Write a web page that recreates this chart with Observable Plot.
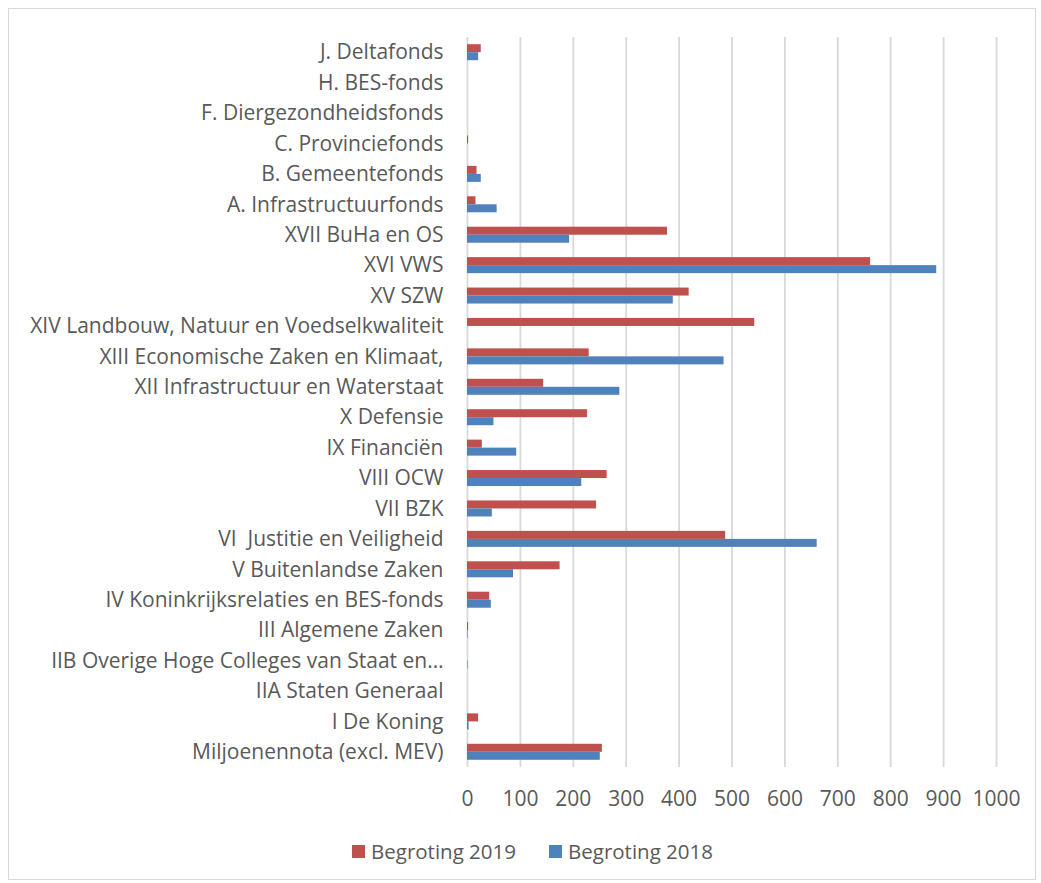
<!DOCTYPE html>
<html><head><meta charset="utf-8">
<script src="https://cdn.jsdelivr.net/npm/d3@7"></script>
<script src="https://cdn.jsdelivr.net/npm/@observablehq/plot@0.6"></script>
<style>
body{margin:0;background:#fff;font-family:"Open Sans",sans-serif;}
#frame{position:absolute;left:8px;top:8px;width:1028px;height:872px;border:1px solid #d9d9d9;box-sizing:border-box;}
#chart{position:absolute;left:0;top:0;}
#legend{position:absolute;top:838px;left:352px;display:flex;gap:33px;font-size:20.5px;color:#595959;line-height:26px;}
#legend .item{display:flex;align-items:center;gap:6px;}
#legend .sw{width:13px;height:13px;display:inline-block;}
</style>
</head><body>
<div id="frame"></div>
<div id="chart"></div>
<div id="legend"></div>
<script>
const categories = [
  "J. Deltafonds",
  "H. BES-fonds",
  "F. Diergezondheidsfonds",
  "C. Provinciefonds",
  "B. Gemeentefonds",
  "A. Infrastructuurfonds",
  "XVII BuHa en OS",
  "XVI VWS",
  "XV SZW",
  "XIV Landbouw, Natuur en Voedselkwaliteit",
  "XIII Economische Zaken en Klimaat,",
  "XII Infrastructuur en Waterstaat",
  "X Defensie",
  "IX Financiën",
  "VIII OCW",
  "VII BZK",
  "VI  Justitie en Veiligheid",
  "V Buitenlandse Zaken",
  "IV Koninkrijksrelaties en BES-fonds",
  "III Algemene Zaken",
  "IIB Overige Hoge Colleges van Staat en…",
  "IIA Staten Generaal",
  "I De Koning",
  "Miljoenennota (excl. MEV)"
];
const begroting2019 = [26, 0, 0, 2, 18, 16, 378, 762, 419, 543, 230, 144, 227, 28, 264, 244, 488, 175, 42, 2, 0, 0, 21, 255];
const begroting2018 = [21, 0, 0, 0, 26, 56, 193, 887, 389, 0, 485, 288, 50, 93, 216, 47, 661, 87, 45, 1, 1, 0, 3, 251];
const xTicks = [0, 100, 200, 300, 400, 500, 600, 700, 800, 900, 1000];
const seriesNames = ["Begroting 2019", "Begroting 2018"];
const seriesColors = ["#c0504d", "#4f81bd"];

const data19 = categories.map((c, i) => ({cat: c, v: begroting2019[i]}));
const data18 = categories.map((c, i) => ({cat: c, v: begroting2018[i]}));

const band = 730 / categories.length;
const half = 8;
const outer = band / 2 - half;

const chart = Plot.plot({
  width: 1041,
  height: 830,
  marginLeft: 467,
  marginRight: 45,
  marginTop: 37,
  marginBottom: 63,
  style: {fontFamily: "'Open Sans', sans-serif", fontSize: "21px", color: "#595959", background: "transparent"},
  x: {domain: [0, 1000], ticks: xTicks, tickFormat: d => String(d), tickSize: 0, tickPadding: 24, label: null},
  y: {domain: categories, padding: 0, round: false, tickSize: 0, tickPadding: 24, label: null},
  marks: [
    Plot.ruleX(xTicks, {stroke: "#d9d9d9", strokeWidth: 1.8}),
    Plot.barX(data19, {y: "cat", x: "v", fill: seriesColors[0], insetTop: outer, insetBottom: band - outer - half}),
    Plot.barX(data18, {y: "cat", x: "v", fill: seriesColors[1], insetTop: outer + half, insetBottom: outer})
  ]
});
chart.querySelectorAll("text").forEach(t => t.setAttribute("fill", "#595959"));
document.getElementById("chart").appendChild(chart);

const legend = document.getElementById("legend");
seriesNames.forEach((n, i) => {
  const item = document.createElement("div");
  item.className = "item";
  const sw = document.createElement("span");
  sw.className = "sw";
  sw.style.background = seriesColors[i];
  const tx = document.createElement("span");
  tx.textContent = n;
  item.appendChild(sw); item.appendChild(tx);
  legend.appendChild(item);
});
</script>
</body></html>
